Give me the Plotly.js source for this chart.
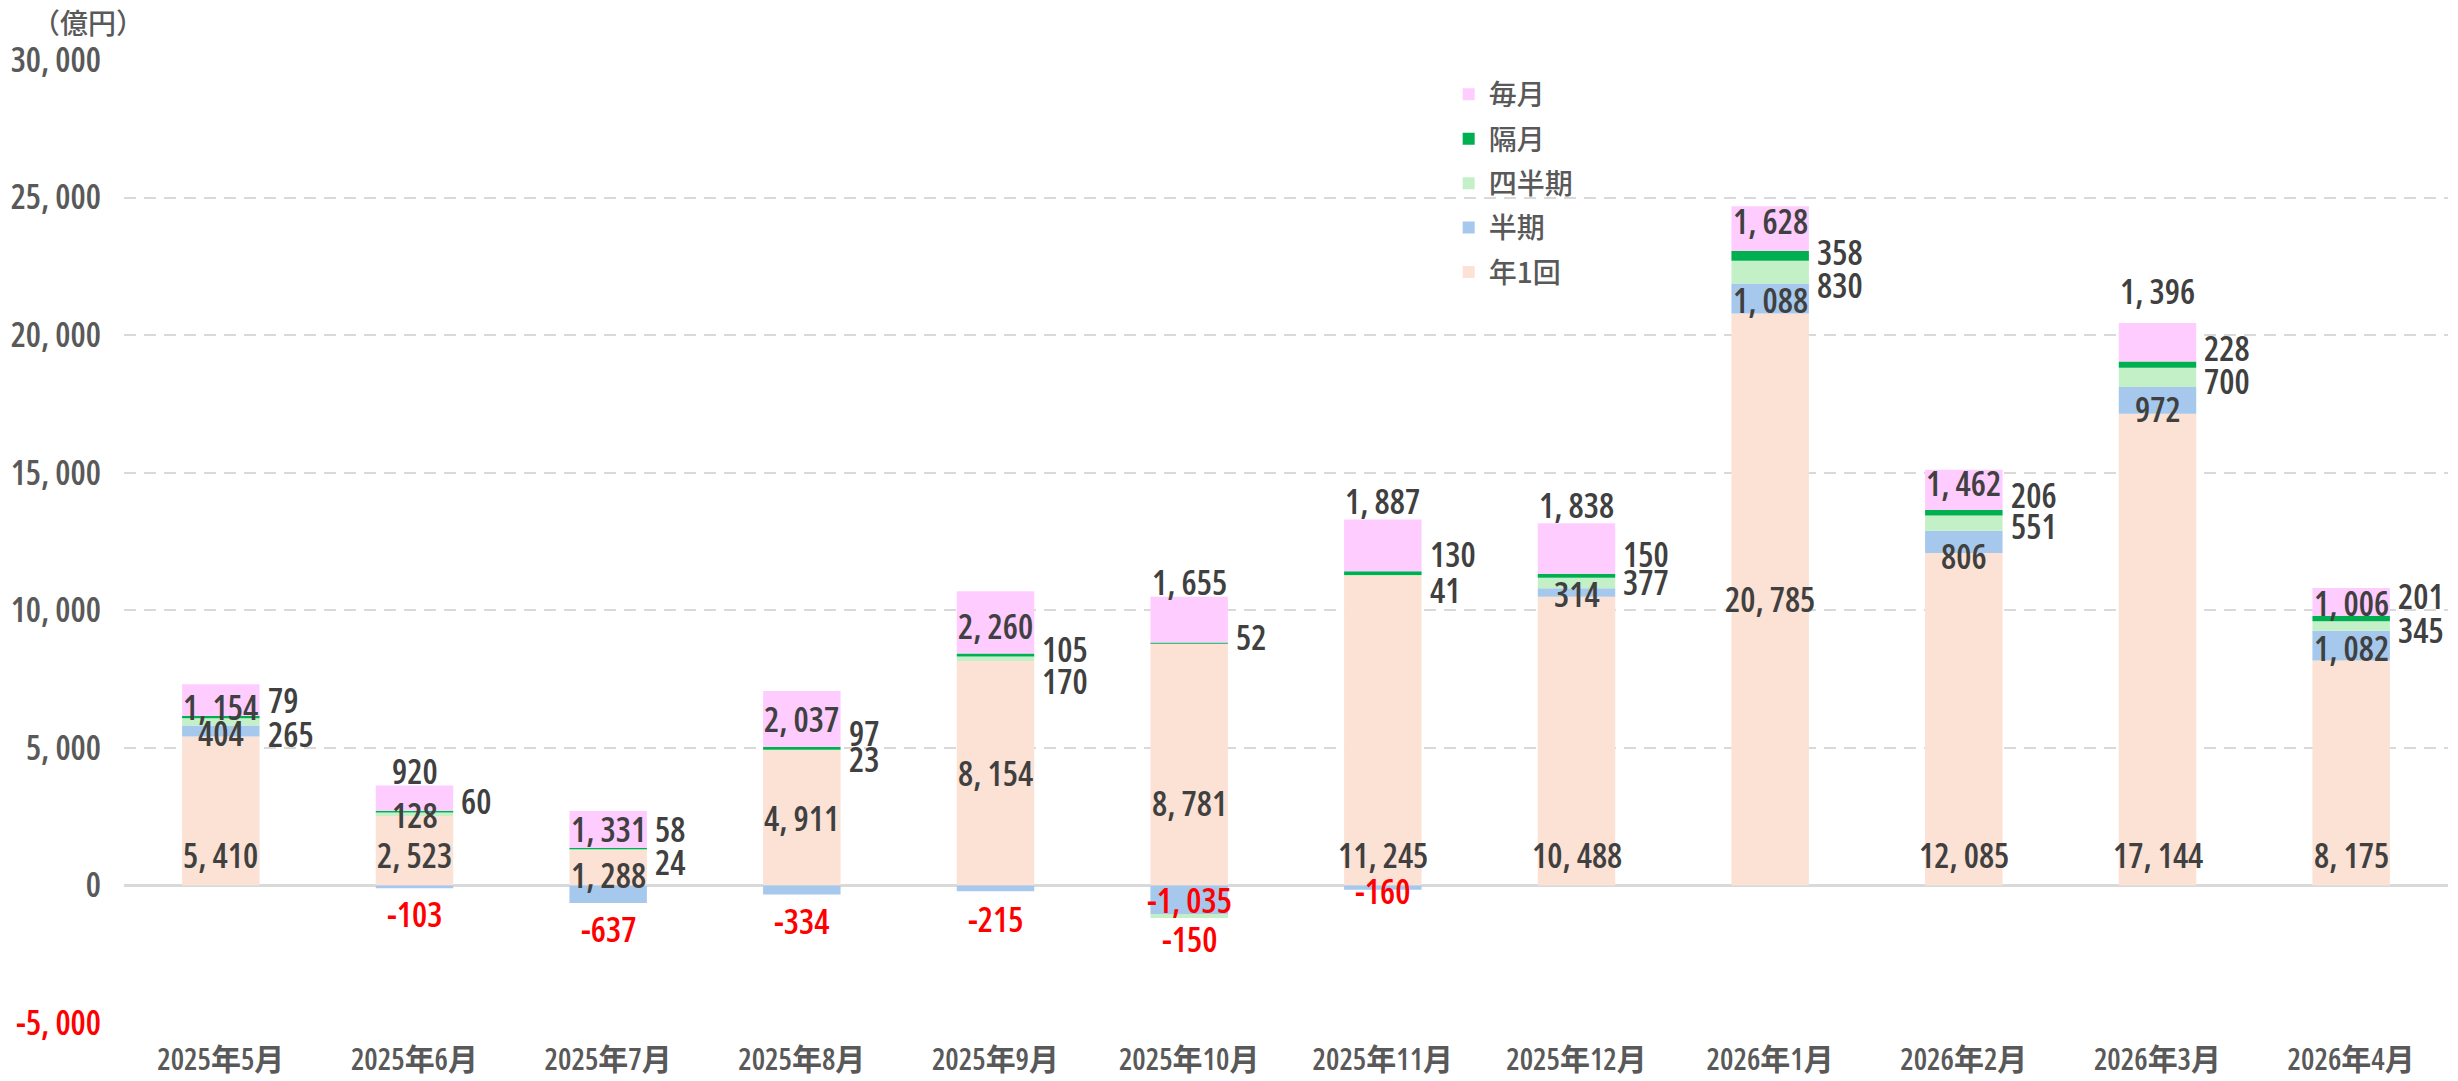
<!DOCTYPE html>
<html>
<head>
<meta charset="utf-8">
<script src="https://cdn.plot.ly/plotly-3.0.1.min.js"></script>
<style>
  html, body { margin: 0; padding: 0; background: #ffffff; }
  #chart { width: 2458px; height: 1081px; }
  text { font-stretch: 75%; }
</style>
</head>
<body>
<div id="chart"></div>
<script>
// ---------------- DATA ----------------
const months = ['2025年5月', '2025年6月', '2025年7月', '2025年8月', '2025年9月', '2025年10月',
                '2025年11月', '2025年12月', '2026年1月', '2026年2月', '2026年3月', '2026年4月'];
const annual    = [5410, 2523, 1288, 4911, 8154, 8781, 11245, 10488, 20785, 12085, 17144, 8175];
const half      = [404, -103, -637, -334, -215, -1035, -160, 314, 1088, 806, 972, 1082];
const quarterly = [265, 128, 24, 23, 170, -150, 41, 377, 830, 551, 700, 345];
const bimonthly = [79, 60, 58, 97, 105, 52, 130, 150, 358, 206, 228, 201];
const monthly   = [1154, 920, 1331, 2037, 2260, 1655, 1887, 1838, 1628, 1462, 1396, 1006];
const seriesNames = ['年1回', '半期', '四半期', '隔月', '毎月'];
const yTickVals = [-5000, 0, 5000, 10000, 15000, 20000, 25000, 30000];
const unitLabel = '（億円）';

// ---------------- STYLE ----------------
const colors = ['#FBE2D5', '#A6C8EC', '#C4F0C8', '#00B050', '#FFCCFF'];
const legendRank = [5, 4, 3, 2, 1];
const numFont = 'Open Sans, Noto Sans CJK JP, sans-serif';
const cjkFont = 'Noto Sans CJK JP, sans-serif';
const labelColor = '#404040';
const negColor = '#FF0000';
const axisColor = '#595959';
const labelSize = 34;

// label placement per series (mode per month, pixel offset; positive dy = downward)
const place = [
  { mode: ['base','base','mid','mid','mid','mid','base','base','mid','base','base','base'],
    dy:   [0, 0, 7, 0, 0, 38, 0, 0, 0, 0, 0, 0] },
  { mode: ['mid','below','below','below','below','mid','mid','mid','mid','mid','mid','mid'],
    dy:   [2, 17, 17, 17, 19, 0, 3, 1, 1, 14, 9, 2] },
  { mode: ['right','mid','right','right','right','below','right','right','right','right','right','right'],
    dy:   [12, 1, 12, 9, 22, 12, 15, -1, 13, 3, 4, 4] },
  { mode: ['right','right','right','right','right','right','right','right','right','right','right','right'],
    dy:   [-17, -11, -20, -15, -6, -6, -19, -22, -4, -18, -17, -22] },
  { mode: ['mid','above','mid','mid','mid','above','above','above','mid','mid','above','mid'],
    dy:   [7, 2, 0, 0, 4, 2, 5, 5, -8, -7, 19, 1] }
];

function fmt(v) {
  const s = Math.abs(v).toString().replace(/\B(?=(\d{3})+(?!\d))/g, ', ');
  return (v < 0 ? '-' : '') + s;
}

const seriesValues = [annual, half, quarterly, bimonthly, monthly];

// ---------------- TRACES ----------------
const traces = seriesValues.map((vals, k) => ({
  type: 'bar',
  name: seriesNames[k],
  legendgroup: seriesNames[k],
  legendrank: legendRank[k],
  x: months,
  y: vals,
  marker: { color: colors[k], line: { width: 0 } },
  hoverinfo: 'x+y+name'
}));

// ---------------- LABELS (computed from the stacked data) ----------------
const annotations = [];
months.forEach((m, i) => {
  let pos = 0, neg = 0;
  const segs = seriesValues.map(vals => {
    const v = vals[i];
    let lo, hi;
    if (v >= 0) { lo = pos; hi = pos + v; pos = hi; }
    else { hi = neg; lo = neg + v; neg = lo; }
    return { v, lo, hi };
  });
  segs.forEach((s, k) => {
    const mode = place[k].mode[i];
    const dy = place[k].dy[i];
    const a = {
      x: i, xref: 'x', yref: 'y',
      text: fmt(s.v), showarrow: false,
      font: { family: numFont, size: labelSize, weight: 600, color: s.v < 0 ? negColor : labelColor },
      xanchor: 'center', yanchor: 'middle'
    };
    if (mode === 'mid') { a.y = (s.lo + s.hi) / 2; a.yshift = -dy; }
    else if (mode === 'base') { a.y = 0; a.yshift = 30 - dy; }
    else if (mode === 'above') { a.y = pos; a.yshift = dy + 13; }
    else if (mode === 'below') { a.y = neg; a.yshift = -(dy + 9); }
    else if (mode === 'right') {
      a.x = i + 0.2; a.xanchor = 'left'; a.xshift = 6;
      a.y = (s.lo + s.hi) / 2; a.yshift = -dy;
    }
    annotations.push(a);
  });
});

annotations.push({
  xref: 'paper', yref: 'paper', x: -0.0155, y: 1.0395,
  xanchor: 'center', yanchor: 'middle', showarrow: false,
  text: unitLabel, font: { family: cjkFont, size: 28, weight: 500, color: axisColor }
});

const yTickText = yTickVals.map(v => v < 0
  ? '<span style="color:' + negColor + '">' + fmt(v) + '</span>'
  : fmt(v));

const layout = {
  width: 2458, height: 1081,
  margin: { l: 124, r: 10, t: 60, b: 58, pad: 0 },
  paper_bgcolor: '#ffffff', plot_bgcolor: '#ffffff',
  barmode: 'relative',
  bargap: 0.6,
  showlegend: true,
  legend: {
    x: 0.570, y: 0.99, xanchor: 'left', yanchor: 'top',
    orientation: 'v', traceorder: 'grouped', tracegroupgap: 5,
    font: { family: cjkFont, size: 28, weight: 500, color: axisColor },
    bgcolor: 'rgba(0,0,0,0)'
  },
  xaxis: {
    type: 'category',
    tickfont: { family: numFont, size: 30, weight: 600, color: axisColor },
    ticks: '', showline: false, showgrid: false, zeroline: false,
    ticklabelstandoff: 16
  },
  yaxis: {
    range: [-5000, 30000],
    tickvals: yTickVals, ticktext: yTickText,
    tickfont: { family: numFont, size: 34, weight: 600, color: axisColor },
    ticks: '', showline: false,
    showgrid: true, gridcolor: '#D9D9D9', gridwidth: 2, griddash: '12px,8px',
    zeroline: true, zerolinecolor: '#D9D9D9', zerolinewidth: 3,
    ticklabelstandoff: 22
  },
  annotations: annotations
};

Plotly.newPlot('chart', traces, layout, { displayModeBar: false, staticPlot: true });
</script>
</body>
</html>
